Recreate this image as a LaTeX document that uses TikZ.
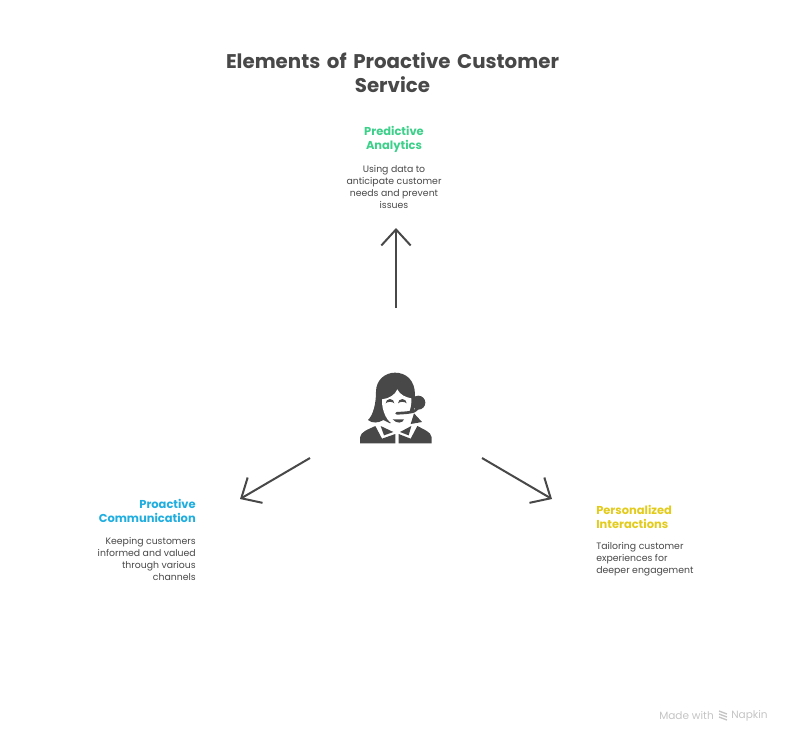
\documentclass[tikz,border=0pt]{standalone}
\usepackage{fontspec}
\setmainfont{Poppins}
\usetikzlibrary{arrows.meta}
\definecolor{inkgray}{HTML}{484848}
\definecolor{predgreen}{HTML}{3DD08A}
\definecolor{commblue}{HTML}{1FAEDF}
\definecolor{persyellow}{HTML}{E3CB1B}
\definecolor{markgray}{HTML}{C4C4C4}
\tikzset{
    titletext/.style={inkgray,font=\fontsize{14.85}{18}\selectfont\bfseries,align=center,text width=300pt,inner sep=0pt},
    headtext/.style={font=\fontsize{8.6}{10.4}\selectfont\bfseries,inner sep=0pt},
    bodytext/.style={inkgray,font=\fontsize{7}{9}\selectfont,inner sep=0pt},
    marktext/.style={markgray,font=\fontsize{7.9}{10}\selectfont,inner sep=0pt},
    spoke/.style={inkgray,line width=1.5pt,-{Straight Barb[length=12pt,width=22pt,line width=1.5pt]}},
}
\begin{document}
\begin{tikzpicture}[x=0.75pt,y=-0.75pt]
    \useasboundingbox (0,0) rectangle (792,744);

    % title
    \node[titletext] (title) at (392.5,73) {Elements of Proactive Customer\\Service};

    % top item
    \node[headtext,predgreen,align=center] (predhead) at (394,139.5) {Predictive\\Analytics};
    \node[bodytext,align=center] (predbody) at (394,187) {Using data to\\anticipate customer\\needs and prevent\\issues};

    % left item
    \node[headtext,commblue,align=right,anchor=east] (commhead) at (196,511) {Proactive\\Communication};
    \node[bodytext,align=right,anchor=east] (commbody) at (196,559) {Keeping customers\\informed and valued\\through various\\channels};

    % right item
    \node[headtext,persyellow,align=left,anchor=west] (pershead) at (596,517) {Personalized\\Interactions};
    \node[bodytext,align=left,anchor=west] (persbody) at (596,559) {Tailoring customer\\experiences for\\deeper engagement};

    % spokes
    \coordinate (upstart) at (396,308);
    \coordinate (upend) at (396,228);
    \coordinate (leftstart) at (310,458);
    \coordinate (leftend) at (240,499);
    \coordinate (rightstart) at (482,458);
    \coordinate (rightend) at (552,499);
    \draw[spoke] (upstart) -- (upend);
    \draw[spoke] (leftstart) -- (leftend);
    \draw[spoke] (rightstart) -- (rightend);

    % person
    \begin{scope}[shift={(340,360)},scale=1/3]
        % hair
        \fill[inkgray] (108,95) .. controls (108,60) and (135,38) .. (165,38)
            .. controls (198,38) and (225,60) .. (225,105)
            -- (222,150) -- (150,190) -- (130,180)
            .. controls (115,190) and (95,190) .. (84,180)
            .. controls (100,165) and (108,130) .. (108,95) -- cycle;
        \fill[inkgray] (235,128) circle (21);
        % face
        \fill[white] (126,118) .. controls (148,115) and (165,105) .. (172,88)
            .. controls (180,105) and (198,112) .. (214,115)
            .. controls (216,150) and (198,194) .. (168,194)
            .. controls (142,194) and (124,150) .. (126,118) -- cycle;
        % eyes
        \fill[inkgray] (137,130) arc (180:360:13) .. controls (158,124) and (142,124) .. (137,130) -- cycle;
        \fill[inkgray] (174,130) arc (180:360:13) .. controls (195,124) and (179,124) .. (174,130) -- cycle;
        % headset
        \draw[inkgray,line width=2pt,line cap=round] (232,146) .. controls (225,158) and (200,158) .. (170,160);
        \fill[inkgray] (158,178) -- (192,178) .. controls (188,190) and (170,192) .. (158,178) -- cycle;
        % side hair
        \fill[inkgray] (222,160) -- (246,186) -- (212,192) -- cycle;
        % body
        \fill[inkgray] (60,250) -- (60,232) .. controls (62,215) and (85,208) .. (106,198)
            -- (126,236) -- (166,222) -- (166,250) -- cycle;
        \fill[inkgray] (275,250) -- (275,232) .. controls (273,215) and (250,208) .. (232,198)
            -- (212,236) -- (176,222) -- (176,250) -- cycle;
        % collar
        \fill[inkgray] (122,198) -- (160,216) -- (132,226) -- cycle;
        \fill[inkgray] (214,198) -- (180,216) -- (206,226) -- cycle;
    \end{scope}

    % watermark
    \node[marktext,anchor=east] (madewith) at (714,716) {Made with};
    \node[marktext,anchor=west] (napkin) at (731,716) {Napkin};
    \foreach \i in {0,3,6}{
        \draw[markgray,line width=1pt] (719,711+\i) -- (727,714+\i);
    }
\end{tikzpicture}
\end{document}
